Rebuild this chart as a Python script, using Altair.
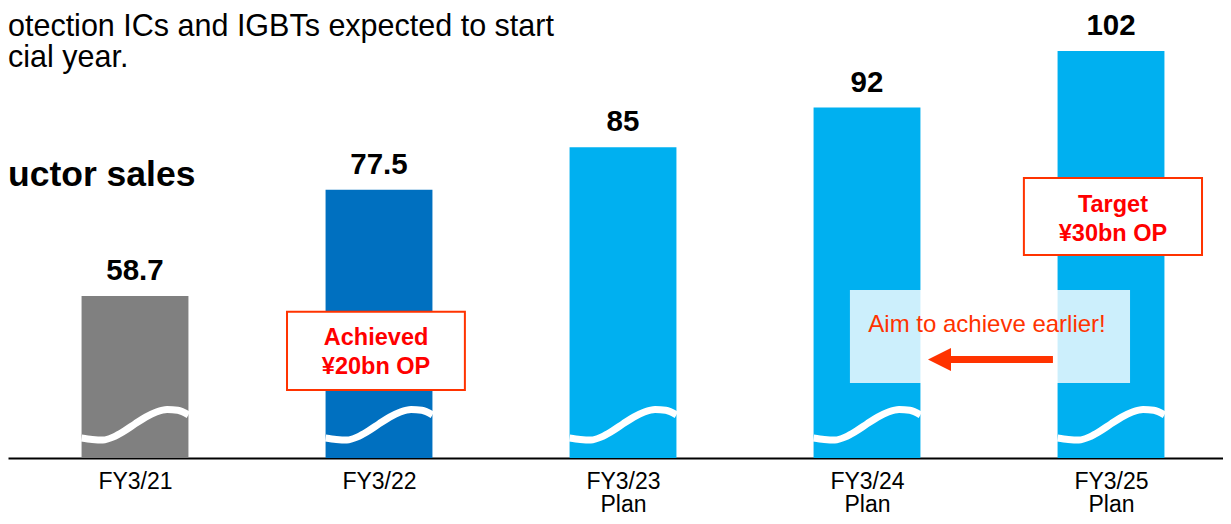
import json
import altair as alt
import pandas as pd

# ---------------- data ----------------
CATEGORIES = ["FY3/21", "FY3/22", "FY3/23", "FY3/24", "FY3/25"]
SUBLABELS = ["", "", "Plan", "Plan", "Plan"]
VALUES = [58.7, 77.5, 85, 92, 102]

# wavy "axis break" stroke drawn across the bottom of every bar
WAVE_POS = [0.0, 0.1, 0.2, 0.3, 0.4, 0.5, 0.6, 0.7, 0.8, 0.9, 1.0]
WAVE_VAL = [33.6, 33.35, 33.25, 33.8, 34.85, 36.1, 37.3, 38.2, 38.65, 38.5, 37.7]

TOP_LINE_1 = "otection ICs and IGBTs expected to start"
TOP_LINE_2 = "cial year."
SUB_TITLE = "uctor sales"
ACHIEVED_TEXT = "Achieved\n¥20bn OP"
TARGET_TEXT = "Target\n¥30bn OP"
AIM_TEXT = "Aim to achieve earlier!"

# ---------------- styles / layout ----------------
BAR_COLORS = ["#808080", "#0070C0", "#00B0F0", "#00B0F0", "#00B0F0"]
RED = "#FF0000"
ORANGE_RED = "#FF3300"
FONT = "Liberation Sans"

STEP = 244.0
W, H = 1215, 450
Y_BASE, Y_TOP = 30.07, 109.6
X_MIN = -0.5205
X_MAX = X_MIN + W / STEP
HALF = 0.219

xs = alt.Scale(domain=[X_MIN, X_MAX], nice=False, zero=False)
ys = alt.Scale(domain=[Y_BASE, Y_TOP], nice=False, zero=False)

label_js = "[" + ",".join(
    json.dumps([c, s]) if s else json.dumps(c) for c, s in zip(CATEGORIES, SUBLABELS)
) + "]"

bars_df = pd.DataFrame({"idx": list(range(len(CATEGORIES))), "category": CATEGORIES, "value": VALUES})

bars = (
    alt.Chart(bars_df)
    .transform_calculate(x0=f"datum.idx - {HALF}", x1=f"datum.idx + {HALF}")
    .mark_bar()
    .encode(
        x=alt.X(
            "x0:Q",
            scale=xs,
            title=None,
            axis=alt.Axis(
                values=list(range(len(CATEGORIES))),
                labelExpr=f"{label_js}[datum.value]",
                grid=False,
                ticks=False,
                tickSize=0,
                domainColor="#000000",
                domainWidth=2,
                labelFont=FONT,
                labelFontSize=23,
                labelColor="#000000",
                labelPadding=12,
                labelLineHeight=23.5,
                labelFlush=False,
                labelOverlap=False,
                labelBound=False,
            ),
        ),
        x2="x1:Q",
        y=alt.Y("value:Q", scale=ys, axis=None),
        y2=alt.datum(Y_BASE),
        color=alt.Color("category:N", scale=alt.Scale(domain=CATEGORIES, range=BAR_COLORS), legend=None),
    )
)

value_labels = (
    alt.Chart(bars_df)
    .mark_text(font=FONT, fontWeight="bold", fontSize=29.5, baseline="alphabetic", dy=-16, color="#000000")
    .encode(x=alt.X("idx:Q", scale=xs), y=alt.Y("value:Q", scale=ys),
            text=alt.Text("value:Q", format=".1~f"))
)

wave_rows = []
for i in range(len(CATEGORIES)):
    for p, v in zip(WAVE_POS, WAVE_VAL):
        wave_rows.append({"idx": i, "pos": p, "val": v})
wave_df = pd.DataFrame(wave_rows)

waves = (
    alt.Chart(wave_df)
    .transform_calculate(wx=f"datum.idx - {HALF} + datum.pos * {2 * HALF}")
    .mark_line(color="#FFFFFF", strokeWidth=7, interpolate="monotone", strokeCap="butt")
    .encode(x=alt.X("wx:Q", scale=xs), y=alt.Y("val:Q", scale=ys), detail="idx:N")
)

# translucent highlight over FY3/24 - FY3/25
veil_df = pd.DataFrame({"x1": [2.930], "x2": [4.078], "y1": [43.32], "y2": [59.76]})
veil = (
    alt.Chart(veil_df)
    .mark_rect(color="#FFFFFF", opacity=0.8)
    .encode(x=alt.X("x1:Q", scale=xs), x2="x2:Q", y=alt.Y("y1:Q", scale=ys), y2="y2:Q")
)

aim_df = pd.DataFrame({"x": [3.492], "y": [52.34], "t": [AIM_TEXT]})
aim = (
    alt.Chart(aim_df)
    .mark_text(font=FONT, fontSize=24, color=ORANGE_RED, baseline="alphabetic", align="center")
    .encode(x=alt.X("x:Q", scale=xs), y=alt.Y("y:Q", scale=ys), text="t:N")
)

arrow_line_df = pd.DataFrame({"x1": [3.344], "x2": [3.762], "y": [47.48]})
arrow_line = (
    alt.Chart(arrow_line_df)
    .mark_rule(color=ORANGE_RED, strokeWidth=7, strokeCap="butt")
    .encode(x=alt.X("x1:Q", scale=xs), x2="x2:Q", y=alt.Y("y:Q", scale=ys))
)
arrow_head_df = pd.DataFrame({"x": [3.297], "y": [47.48]})
arrow_head = (
    alt.Chart(arrow_head_df)
    .mark_point(shape="M1,-1L-1,0L1,1Z", size=529, filled=True, color=ORANGE_RED, opacity=1, strokeWidth=0)
    .encode(x=alt.X("x:Q", scale=xs), y=alt.Y("y:Q", scale=ys))
)

boxes_df = pd.DataFrame({
    "x1": [0.623, 3.643], "x2": [1.352, 4.373],
    "y1": [42.1, 65.95], "y2": [55.9, 79.56],
    "tx": [0.988, 4.008], "ty": [50.04, 73.55],
    "t": [ACHIEVED_TEXT, TARGET_TEXT],
})
boxes = (
    alt.Chart(boxes_df)
    .mark_rect(fill="#FFFFFF", stroke=ORANGE_RED, strokeWidth=2)
    .encode(x=alt.X("x1:Q", scale=xs), x2="x2:Q", y=alt.Y("y1:Q", scale=ys), y2="y2:Q")
)
box_text = (
    alt.Chart(boxes_df)
    .mark_text(font=FONT, fontWeight="bold", fontSize=23.5, color=RED, lineBreak="\n",
               lineHeight=29, baseline="alphabetic", align="center")
    .encode(x=alt.X("tx:Q", scale=xs), y=alt.Y("ty:Q", scale=ys), text="t:N")
)

# top-left slide text (page baselines ~36 and ~67)
top_df = pd.DataFrame({"x": [X_MIN, X_MIN], "y": [104.65, 99.17], "t": [TOP_LINE_1, TOP_LINE_2]})
top_text = (
    alt.Chart(top_df)
    .mark_text(font=FONT, fontSize=30.5, color="#000000", baseline="alphabetic", align="left")
    .encode(x=alt.X("x:Q", scale=xs), y=alt.Y("y:Q", scale=ys), text="t:N")
)

sub_df = pd.DataFrame({"x": [X_MIN], "y": [78.14], "t": [SUB_TITLE]})
sub_text = (
    alt.Chart(sub_df)
    .mark_text(font=FONT, fontSize=35.5, fontWeight="bold", color="#000000",
               baseline="alphabetic", align="left")
    .encode(x=alt.X("x:Q", scale=xs), y=alt.Y("y:Q", scale=ys), text="t:N")
)

chart = (
    alt.layer(bars, veil, waves, value_labels, aim, arrow_line, arrow_head, boxes, box_text, top_text, sub_text)
    .properties(
        width=W,
        height=H,
        autosize=alt.AutoSizeParams(type="none"),
        padding={"left": 0, "top": 0, "right": 0, "bottom": 58},
        background="#FFFFFF",
    )
    .configure_view(stroke=None)
)

chart.save("out.html", embed_options={"renderer": "svg", "actions": False})
